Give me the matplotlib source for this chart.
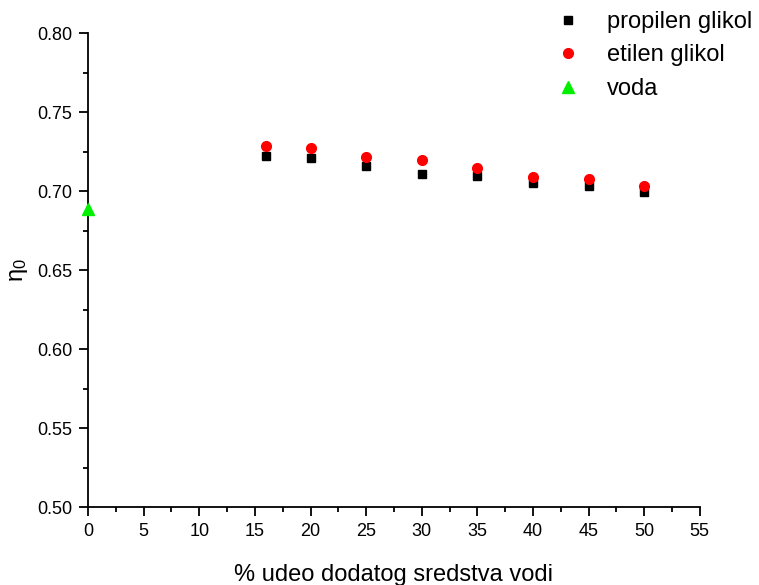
import matplotlib
matplotlib.use("Agg")
import matplotlib.pyplot as plt
from matplotlib.ticker import MultipleLocator

plt.rcParams['font.family'] = ['Liberation Sans', 'DejaVu Sans']

# Efficiency eta_0 versus share of additive in water
x_glycol = [16, 20, 25, 30, 35, 40, 45, 50]
propilen = [0.7225, 0.7213, 0.7160, 0.7111, 0.7095, 0.7050, 0.7035, 0.6997]
etilen = [0.7287, 0.7276, 0.7215, 0.7198, 0.7145, 0.7092, 0.7076, 0.7033]
x_voda = [0]
voda = [0.6888]

x_ticks = [0, 5, 10, 15, 20, 25, 30, 35, 40, 45, 50, 55]
y_ticks = [0.50, 0.55, 0.60, 0.65, 0.70, 0.75, 0.80]

fig = plt.figure(figsize=(7.59, 5.85), dpi=100)
ax = fig.add_axes([0.116, 0.1333, 0.806, 0.8097])

ax.plot(x_glycol, propilen, linestyle='none', marker='s', color='black',
        markersize=6, label='propilen glikol', clip_on=False)
ax.plot(x_glycol, etilen, linestyle='none', marker='o', color='red',
        markersize=7, label='etilen glikol', clip_on=False)
ax.plot(x_voda, voda, linestyle='none', marker='^', color='#00f000',
        markersize=8.5, label='voda', clip_on=False, zorder=5)

ax.set_xlim(0, 55)
ax.set_ylim(0.50, 0.80)
ax.set_xticks(x_ticks)
ax.set_yticks(y_ticks)
ax.set_yticklabels([f"{v:.2f}" for v in y_ticks])
ax.xaxis.set_minor_locator(MultipleLocator(2.5))
ax.yaxis.set_minor_locator(MultipleLocator(0.025))

for side in ('top', 'right'):
    ax.spines[side].set_visible(False)
for side in ('left', 'bottom'):
    ax.spines[side].set_linewidth(1.3)

ax.tick_params(which='major', direction='out', length=6.3, width=1.3,
               labelsize=13)
ax.tick_params(which='minor', direction='out', length=3.6, width=1.3)
ax.tick_params(axis='x', which='major', pad=5.5)
ax.tick_params(axis='y', which='major', pad=5)

ax.set_xlabel('% udeo dodatog sredstva vodi', fontsize=17, labelpad=17)
ax.set_ylabel(r'$\mathregular{\eta_0}$', fontsize=17, labelpad=5)

ax.legend(loc='upper left', bbox_to_anchor=(0.7325, 0.981),
          bbox_transform=fig.transFigure, frameon=False,
          fontsize=17, handletextpad=1.15, labelspacing=0.48,
          handlelength=1.0, borderpad=0, borderaxespad=0)

fig.savefig('out.png', dpi=100)
